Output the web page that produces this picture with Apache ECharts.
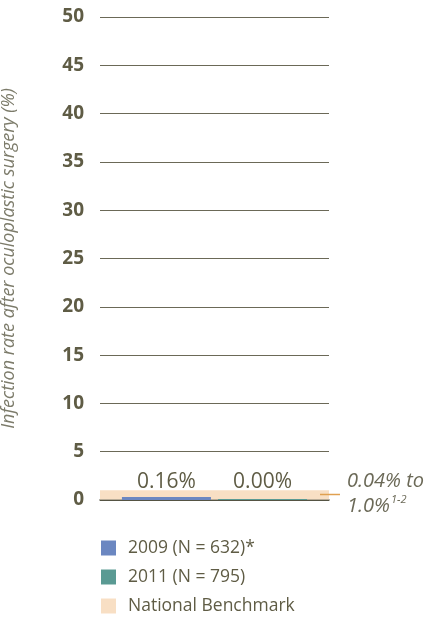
<!DOCTYPE html>
<html>
<head>
<meta charset="utf-8">
<script src="https://cdn.jsdelivr.net/npm/echarts@6/dist/echarts.min.js"></script>
<style>
  html, body { margin: 0; padding: 0; background: #fff; }
  #chart { width: 425px; height: 618px; }
</style>
</head>
<body>
<div id="chart"></div>
<script>
// data
var categories = ['Infection rate'];
var seriesNames = ['2009 (N = 632)*', '2011 (N = 795)', 'National Benchmark'];
var rate2009 = [0.16];
var rate2011 = [0.00];
var benchmarkRange = [0.04, 1.0];
var yTicks = { min: 0, max: 50, interval: 5 };

var textColor = '#5f5c45';
var chart = echarts.init(document.getElementById('chart'));

var option = {
    animation: false,
    textStyle: { fontFamily: 'Open Sans' },
    grid: { left: 100, right: 96, top: 17, bottom: 118, outerBoundsMode: 'none' },
    legend: {
        orient: 'vertical',
        left: 101,
        top: 539,
        padding: 0,
        height: 79,
        itemWidth: 15,
        itemHeight: 15,
        itemGap: 11,
        icon: 'rect',
        textStyle: { color: textColor, fontSize: 17.5, fontFamily: 'Open Sans', padding: [0, 0, 0, 7] },
        data: seriesNames
    },
    xAxis: {
        type: 'category',
        data: categories,
        axisTick: { show: false },
        axisLabel: { show: false },
        axisLine: { lineStyle: { color: '#4f4d3e', width: 1.5 } }
    },
    yAxis: {
        type: 'value',
        min: yTicks.min,
        max: yTicks.max,
        interval: yTicks.interval,
        name: 'Infection rate after oculoplastic surgery (%)',
        nameLocation: 'middle',
        nameRotate: 90,
        nameGap: 82,
        nameTextStyle: { color: '#7c7b6a', fontSize: 18, fontStyle: 'italic' },
        axisLine: { show: false },
        axisTick: { show: false },
        axisLabel: { color: textColor, fontSize: 19, fontWeight: 'bold', margin: 16 },
        splitLine: { lineStyle: { color: '#6b6957', width: 1 } }
    },
    series: [
        {
            name: seriesNames[0],
            type: 'bar',
            data: rate2009,
            barWidth: 89,
            barGap: '8%',
            barMinHeight: 3,
            itemStyle: { color: '#6b87c1' },
            z: 5,
            label: {
                show: true,
                position: 'top',
                distance: 4,
                color: textColor,
                fontSize: 21,
                formatter: function (p) { return p.value.toFixed(2) + '%'; }
            }
        },
        {
            name: seriesNames[1],
            type: 'bar',
            data: rate2011,
            barWidth: 89,
            barMinHeight: 1,
            itemStyle: { color: '#5a9a93' },
            z: 5,
            label: {
                show: true,
                position: 'top',
                distance: 6,
                color: textColor,
                fontSize: 21,
                formatter: function (p) { return p.value.toFixed(2) + '%'; }
            }
        },
        {
            name: seriesNames[2],
            type: 'line',
            data: [],
            itemStyle: { color: '#f8dfc4' },
            markArea: {
                silent: true,
                itemStyle: { color: '#f8dfc4' },
                data: [[{ yAxis: benchmarkRange[0] }, { yAxis: benchmarkRange[1] }]]
            }
        }
    ],
    graphic: [
        {
            type: 'line',
            shape: { x1: 320, y1: 494.5, x2: 340, y2: 494.5 },
            style: { stroke: '#e0a050', lineWidth: 1.5 },
            z: 10
        },
        {
            type: 'text',
            left: 347,
            top: 469,
            style: {
                text: '0.04% to\n{n|1.0%}{s|1-2}',
                fill: '#6b6957',
                font: 'italic 20px "Open Sans"',
                lineHeight: 25,
                rich: {
                    n: { fill: '#6b6957', font: 'italic 20px "Open Sans"', lineHeight: 25 },
                    s: { fill: '#6b6957', font: 'italic 11px "Open Sans"', verticalAlign: 'top', lineHeight: 25, padding: [0, 0, 10, 1] }
                }
            }
        }
    ]
};

chart.setOption(option);
</script>
</body>
</html>
